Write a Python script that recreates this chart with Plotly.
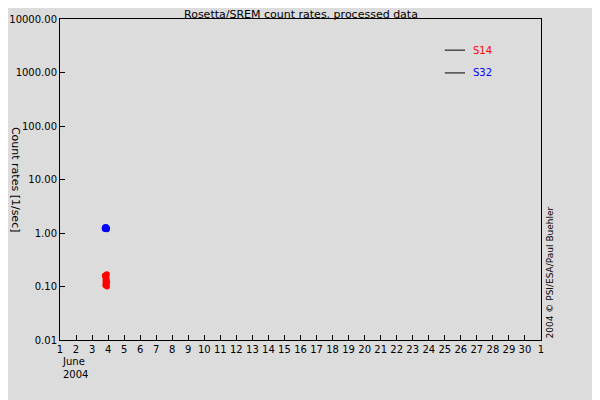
import plotly.graph_objects as go

s14_x = [3.80, 3.82, 3.84, 3.86, 3.88, 3.90, 3.92, 3.94, 3.83, 3.87, 3.91, 3.85, 3.89, 3.93]
s14_y = [0.16, 0.15, 0.13, 0.12, 0.11, 0.14, 0.17, 0.12, 0.105, 0.16, 0.13, 0.115, 0.15, 0.10]
s32_x = [3.82, 3.86, 3.90, 3.84, 3.88]
s32_y = [1.22, 1.25, 1.20, 1.27, 1.23]
tick_vals = list(range(1, 32))
tick_text = [str(d) for d in range(1, 31)] + ["1"]
y_ticks = [0.01, 0.1, 1, 10, 100, 1000, 10000]
y_text = ["0.01", "0.10", "1.00", "10.00", "100.00", "1000.00", "10000.00"]

fig = go.Figure()
fig.add_trace(go.Scatter(x=s14_x, y=s14_y, mode="markers", marker=dict(color="red", size=6), showlegend=False))
fig.add_trace(go.Scatter(x=s32_x, y=s32_y, mode="markers", marker=dict(color="blue", size=7), showlegend=False))

axis_common = dict(showline=True, linecolor="black", linewidth=1, mirror=True, showgrid=False,
                   ticks="inside", tickcolor="black", ticklen=5, zeroline=False, automargin=False,
                   tickangle=0, tickfont=dict(family="DejaVu Sans", size=10, color="black"))
fig.update_xaxes(range=[1, 31], tickvals=tick_vals, ticktext=tick_text, **axis_common)
fig.update_yaxes(type="log", range=[-2, 4], tickvals=y_ticks, ticktext=y_text, **axis_common)

fig.add_annotation(text="Rosetta/SREM count rates, processed data", xref="paper", yref="paper",
                   x=0.5, y=1.0, xanchor="center", yanchor="bottom", yshift=-4, showarrow=False,
                   font=dict(family="DejaVu Sans", size=11, color="black"))
fig.add_annotation(text="June<br>2004", xref="paper", yref="paper", x=0.0, y=-0.045, xanchor="left",
                   yanchor="top", align="left", showarrow=False,
                   font=dict(family="DejaVu Sans", size=10, color="black"))
fig.add_annotation(text="Count rates [1/sec]", xref="paper", yref="paper", x=-0.11, y=0.5,
                   textangle=90, showarrow=False, font=dict(family="DejaVu Sans", size=11, color="black"))
fig.add_annotation(text="2004 © PSI/ESA/Paul Buehler", xref="paper", yref="paper", x=1.005, y=0.0,
                   yanchor="bottom", xanchor="left", textangle=-90, showarrow=False,
                   font=dict(family="DejaVu Sans", size=9, color="black"))
for yy, lab, col in [(0.903, "S14", "red"), (0.832, "S32", "blue")]:
    fig.add_shape(type="line", xref="paper", yref="paper", x0=0.8, x1=0.842, y0=yy, y1=yy,
                  line=dict(color="black", width=1))
    fig.add_annotation(text=lab, xref="paper", yref="paper", x=0.855, y=yy, xanchor="left", yanchor="middle",
                       showarrow=False, font=dict(family="DejaVu Sans", size=10, color=col))

fig.update_layout(width=600, height=400, paper_bgcolor="#dcdcdc", plot_bgcolor="#dcdcdc",
                  margin=dict(l=52, r=67, t=11, b=68))
fig.write_html("out.html")
